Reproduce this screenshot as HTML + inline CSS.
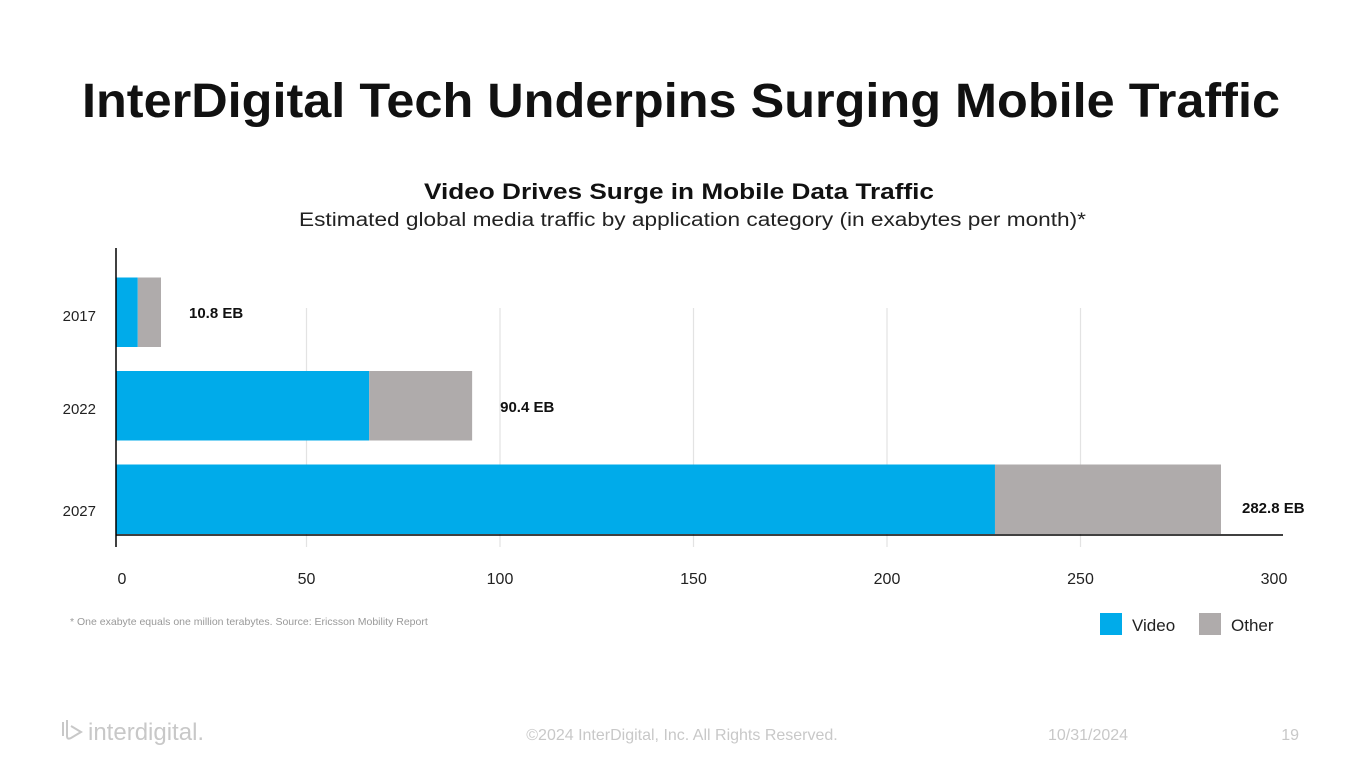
<!DOCTYPE html>
<html><head><meta charset="utf-8">
<style>
html,body{margin:0;padding:0;background:#fff;}
svg{display:block;font-family:"Liberation Sans",sans-serif;}
</style></head>
<body>
<svg id="chart" width="1365" height="768" viewBox="0 0 1365 768">
  <text x="681" y="117" text-anchor="middle" font-size="48" font-weight="bold" fill="#111" textLength="1198" lengthAdjust="spacingAndGlyphs">InterDigital Tech Underpins Surging Mobile Traffic</text>
  <text x="424" y="199" font-size="22" font-weight="bold" fill="#111" textLength="510" lengthAdjust="spacingAndGlyphs">Video Drives Surge in Mobile Data Traffic</text>
  <text x="299" y="226" font-size="19" fill="#222" textLength="787" lengthAdjust="spacingAndGlyphs">Estimated global media traffic by application category (in exabytes per month)*</text>
  <g id="grid"></g>
  <g id="bars"></g>
  <g id="labels"></g>
  <line x1="116" y1="248" x2="116" y2="547" stroke="#000" stroke-width="1.5"/>
  <line x1="116" y1="535" x2="1283" y2="535" stroke="#000" stroke-width="1.5"/>
  <text x="70" y="625" font-size="10.5" fill="#999">* One exabyte equals one million terabytes. Source: Ericsson Mobility Report</text>
  <rect x="1100" y="613" width="22" height="22" fill="#00ABEA"/>
  <text x="1132" y="631" font-size="17" fill="#222">Video</text>
  <rect x="1199" y="613" width="22" height="22" fill="#AFABAB"/>
  <text x="1231" y="631" font-size="17" fill="#222">Other</text>
  <g>
    <path d="M63 722 v14 M67 720 v16 q0 4 4 2 l10 -6 l-10 -6" stroke="#c8c8c8" stroke-width="2" fill="none"/>
    <text x="88" y="740" font-size="24" fill="#c8c8c8">interdigital.</text>
  </g>
  <text x="682" y="740" text-anchor="middle" font-size="16" fill="#c8c8c8">©2024 InterDigital, Inc. All Rights Reserved.</text>
  <text x="1088" y="740" text-anchor="middle" font-size="16" fill="#c8c8c8">10/31/2024</text>
  <text x="1299" y="740" text-anchor="end" font-size="16" fill="#c8c8c8">19</text>
</svg>
<script>
const categories = ["2017", "2022", "2027"];
const videoValues = [6.4, 66.2, 227.9];
const otherValues = [6.0, 26.6, 58.4];
const totalLabels = ["10.8 EB", "90.4 EB", "282.8 EB"];
const xTicks = [0, 50, 100, 150, 200, 250, 300];

const NS = "http://www.w3.org/2000/svg";
const x0 = 113, xScale = 3.87;
function xPos(v){ return x0 + v * xScale; }
const bandTop = 265, bandH = 93.5, barH = 69.5;
function yPos(i){ return bandTop + i * bandH + (bandH - barH) / 2 + 0.5; }
function mk(tag, attrs, parent){
  const e = document.createElementNS(NS, tag);
  for (const k in attrs) e.setAttribute(k, attrs[k]);
  parent.appendChild(e);
  return e;
}
const grid = document.getElementById("grid");
const bars = document.getElementById("bars");
const labels = document.getElementById("labels");

xTicks.forEach(t => {
  const x = xPos(t);
  if (t > 0 && t < 300) {
    const l = mk("line", {x1: x, y1: 308, x2: x, y2: 547, stroke: "#e3e3e3", "stroke-width": 1.2}, grid);
    
    
  }
  const tx = mk("text", {x: t === 0 ? x + 9 : x, y: 584, "text-anchor": "middle", "font-size": 16, fill: "#222"}, labels);
  tx.textContent = t;
  
  
});

categories.forEach((c, i) => {
  const y = yPos(i);
  const v = mk("rect", {x: xPos(0) + 3, y: y, width: xPos(videoValues[i]) - xPos(0) - 3, height: barH, fill: "#00ABEA"}, bars);
  
  
  const o = mk("rect", {x: xPos(videoValues[i]), y: y, width: otherValues[i] * xScale, height: barH, fill: "#AFABAB"}, bars);
  
  
  const cy = [321, 414, 516][i];
  const yl = mk("text", {x: 96, y: cy, "text-anchor": "end", "font-size": 15, fill: "#222"}, labels);
  yl.textContent = c;
  
  
  const total = videoValues[i] + otherValues[i];
  const lx = i === 2 ? 1242 : xPos(total) + 28;
  const vl = mk("text", {x: lx, y: [318, 412, 513][i], "font-size": 15, "font-weight": "bold", fill: "#111"}, labels);
  vl.textContent = totalLabels[i];
  
  
});
</script>
</body></html>
